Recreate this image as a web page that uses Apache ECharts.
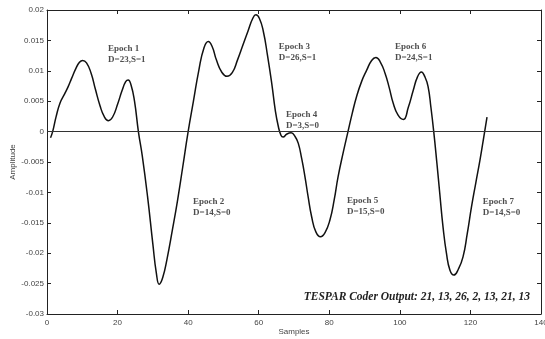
<!DOCTYPE html>
<html>
<head>
<meta charset="utf-8">
<title>TESPAR epochs</title>
<script src="https://cdn.jsdelivr.net/npm/echarts@6/dist/echarts.min.js"></script>
<style>
  html, body { margin: 0; padding: 0; background: #fff; }
  #chart { width: 545px; height: 339px; }
</style>
</head>
<body>
<div id="chart"></div>
<script>
// Waveform samples: [sample index, amplitude]
const waveform = [
  [1, -0.0010], [1.6, 0.0000], [2.6, 0.0025], [3.7, 0.0047], [5, 0.0062],
  [6, 0.0074], [7, 0.0088], [8.2, 0.0104], [9.2, 0.0114], [10.1, 0.0117],
  [11.2, 0.0113], [12.5, 0.0096], [13.7, 0.0070], [15, 0.0043], [16.2, 0.0025],
  [17.4, 0.0018], [18.6, 0.0024], [20, 0.0045], [21.3, 0.0068], [22.3, 0.0082],
  [23, 0.0085], [23.8, 0.0077], [24.8, 0.0050], [25.9, 0.0000], [27, -0.0040],
  [28.5, -0.0107], [30, -0.0185], [31, -0.0233], [31.8, -0.0251], [32.8, -0.0240],
  [34, -0.0210], [35.5, -0.0163], [37, -0.0113], [38.5, -0.0057], [40, 0.0000],
  [41.5, 0.0050], [43, 0.0100], [44.5, 0.0138], [45.7, 0.0148], [46.8, 0.0140],
  [48, 0.0118], [49.5, 0.0098], [51, 0.0091], [52.5, 0.0097], [54, 0.0118],
  [55.5, 0.0142], [57, 0.0166], [58.3, 0.0186], [59.2, 0.0192], [60.2, 0.0186],
  [61.3, 0.0165], [62.5, 0.0125], [63.7, 0.0079], [64.7, 0.0035], [65.5, 0.0010],
  [66.3, -0.0006], [66.9, -0.0009], [68, -0.0004], [69.2, -0.0002], [70.3, -0.0008],
  [71.2, -0.0019], [72.2, -0.0045], [73.1, -0.0074], [74, -0.0107], [75, -0.0140],
  [76.2, -0.0165], [77.5, -0.0173], [78.8, -0.0166], [80.2, -0.0145], [81.4, -0.0112],
  [82.5, -0.0074], [84, -0.0033], [85.3, 0.0000], [86.5, 0.0030], [87.7, 0.0057],
  [89.2, 0.0083], [90.6, 0.0101], [92, 0.0117], [93.2, 0.0122], [94.5, 0.0114],
  [95.8, 0.0096], [97, 0.0072], [98.1, 0.0047], [99.5, 0.0027], [101, 0.0020],
  [102.4, 0.0040], [103.8, 0.0068], [105, 0.0090], [106.1, 0.0098], [107.1, 0.0090],
  [108, 0.0074], [108.8, 0.0040], [109.6, 0.0000], [110.5, -0.0052], [111.3, -0.0101],
  [112.2, -0.0155], [113.2, -0.0200], [114.2, -0.0228], [115.3, -0.0236], [116.6, -0.0226],
  [117.9, -0.0206], [119.1, -0.0168], [120.3, -0.0124], [121.5, -0.0085], [122.7, -0.0047],
  [123.7, -0.0012], [124.7, 0.0024]
];

// Epoch annotations
const epochNames = ['Epoch 1', 'Epoch 2', 'Epoch 3', 'Epoch 4', 'Epoch 5', 'Epoch 6', 'Epoch 7'];
const epochCodes = ['D=23,S=1', 'D=14,S=0', 'D=26,S=1', 'D=3,S=0', 'D=15,S=0', 'D=24,S=1', 'D=14,S=0'];
// Where each annotation sits, in axis units (sample, amplitude)
const epochAnchors = [
  [17.3, 0.0127], [41.4, -0.0125], [65.7, 0.0131], [67.7, 0.0018],
  [85.0, -0.0123], [98.6, 0.0131], [123.5, -0.0125]
];
const coderOutput = [21, 13, 26, 2, 13, 21, 13];

// Axis ticks
const xTicks = [0, 20, 40, 60, 80, 100, 120, 140];
const yTicks = [-0.03, -0.025, -0.02, -0.015, -0.01, -0.005, 0, 0.005, 0.01, 0.015, 0.02];

const tickFont = { fontFamily: 'Liberation Sans, Arial, sans-serif', fontSize: 8, color: '#444' };
const frameLine = { show: true, onZero: false, lineStyle: { color: '#222', width: 1 } };
const innerTick = { show: true, inside: true, length: 4, lineStyle: { color: '#222', width: 1 } };

const chart = echarts.init(document.getElementById('chart'), null, { renderer: 'canvas' });

chart.setOption({
  animation: false,
  backgroundColor: '#fff',
  grid: { left: 47, top: 10, right: 4, bottom: 25, containLabel: false, outerBoundsMode: 'none' },
  xAxis: [
    {
      type: 'value', position: 'bottom',
      min: xTicks[0], max: xTicks[xTicks.length - 1], interval: xTicks[1] - xTicks[0],
      axisLine: frameLine, axisTick: innerTick, splitLine: { show: false },
      axisLabel: Object.assign({ margin: 5 }, tickFont),
      name: 'Samples', nameLocation: 'middle', nameGap: 14, nameMoveOverlap: false,
      nameTextStyle: { fontFamily: 'Liberation Sans, Arial, sans-serif', fontSize: 8, color: '#444' }
    },
    {
      type: 'value', position: 'top',
      min: xTicks[0], max: xTicks[xTicks.length - 1], interval: xTicks[1] - xTicks[0],
      axisLine: frameLine, axisTick: innerTick, splitLine: { show: false },
      axisLabel: { show: false }
    }
  ],
  yAxis: [
    {
      type: 'value', position: 'left',
      min: yTicks[0], max: yTicks[yTicks.length - 1], interval: 0.005,
      axisLine: frameLine, axisTick: innerTick, splitLine: { show: false },
      axisLabel: Object.assign({
        margin: 3,
        formatter: v => String(+v.toFixed(3))
      }, tickFont),
      name: 'Amplitude', nameLocation: 'middle', nameGap: 30, nameMoveOverlap: false,
      nameTextStyle: { fontFamily: 'Liberation Sans, Arial, sans-serif', fontSize: 8, color: '#444' }
    },
    {
      type: 'value', position: 'right',
      min: yTicks[0], max: yTicks[yTicks.length - 1], interval: 0.005,
      axisLine: frameLine, axisTick: innerTick, splitLine: { show: false },
      axisLabel: { show: false }
    }
  ],
  series: [
    {
      type: 'line',
      data: waveform,
      showSymbol: false,
      smooth: 0.5,
      lineStyle: { color: '#111', width: 1.5 },
      markLine: {
        silent: true,
        symbol: ['none', 'none'],
        label: { show: false },
        lineStyle: { type: 'solid', color: '#333', width: 1 },
        data: [{ yAxis: 0 }]
      },
      z: 3
    },
    {
      type: 'scatter',
      symbolSize: 0,
      data: epochAnchors.map((p, i) => ({ value: p, name: epochNames[i] + '\n' + epochCodes[i] })),
      label: {
        show: true,
        position: [0, 0],
        align: 'left',
        verticalAlign: 'middle',
        formatter: p => p.name,
        fontFamily: 'Liberation Serif, Times New Roman, serif',
        fontWeight: 'bold',
        fontSize: 9,
        lineHeight: 11,
        color: '#222'
      },
      silent: true,
      z: 4
    }
  ],
  graphic: [
    {
      type: 'text',
      right: 15,
      top: 291,
      style: {
        text: 'TESPAR Coder Output: ' + coderOutput.join(', '),
        font: 'italic bold 11.5px "Liberation Serif", "Times New Roman", serif',
        fill: '#222'
      }
    }
  ]
});
</script>
</body>
</html>
